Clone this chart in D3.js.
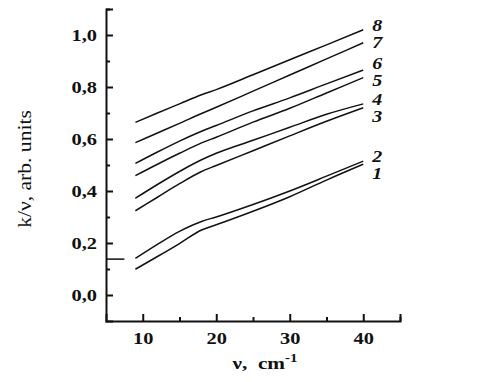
<!DOCTYPE html>
<html>
<head>
<meta charset="utf-8">
<script src="https://cdn.jsdelivr.net/npm/d3@7/dist/d3.min.js"></script>
<style>
  html, body { margin: 0; padding: 0; background: #fff; }
  svg { display: block; }
  text { font-family: "Liberation Serif", "Times New Roman", serif; fill: #111; }
</style>
</head>
<body>
<svg id="chart" width="478" height="382"></svg>
<script>
// ---- data ----
const nu = [9, 12, 15, 18, 20, 25, 30, 35, 40];
const curve1 = [0.099, 0.148, 0.198, 0.250, 0.270, 0.322, 0.378, 0.442, 0.503];
const curve2 = [0.141, 0.195, 0.245, 0.283, 0.300, 0.348, 0.400, 0.457, 0.515];
const curve3 = [0.324, 0.376, 0.428, 0.475, 0.498, 0.555, 0.612, 0.668, 0.720];
const curve4 = [0.372, 0.425, 0.475, 0.520, 0.545, 0.595, 0.645, 0.695, 0.735];
const curve5 = [0.459, 0.503, 0.545, 0.585, 0.607, 0.665, 0.718, 0.777, 0.836];
const curve6 = [0.506, 0.550, 0.592, 0.630, 0.652, 0.708, 0.758, 0.812, 0.865];
const curve7 = [0.586, 0.623, 0.660, 0.698, 0.722, 0.784, 0.846, 0.908, 0.970];
const curve8 = [0.664, 0.700, 0.735, 0.770, 0.790, 0.847, 0.905, 0.962, 1.020];
const curveNames = ["1", "2", "3", "4", "5", "6", "7", "8"];
const xMajorTicks = [10, 20, 30, 40];
const xMinorTicks = [15, 25, 35, 45];
const yMajorTicks = [0.0, 0.2, 0.4, 0.6, 0.8, 1.0];
const yMinorTicks = [0.1, 0.3, 0.5, 0.7, 0.9, 1.1];
const markY = 0.138;            // short horizontal mark on the y axis
const markX = [5, 7.5];

// ---- layout ----
const svg = d3.select("#chart");
const x = d3.scaleLinear().domain([5, 45]).range([106, 400]);
const y = d3.scaleLinear().domain([-0.1, 1.1]).range([321, 9]);
const fmt = v => d3.format(".1f")(v).replace(".", ",");
const SX = 1.2; // horizontal widening of the serif glyphs

// axes
svg.append("g").attr("transform", `translate(${x(5)},0)`)
  .call(d3.axisLeft(y).tickValues(yMajorTicks).tickSize(-7).tickPadding(9).tickFormat(fmt));
svg.append("g").attr("transform", `translate(${x(5)},0)`)
  .call(d3.axisLeft(y).tickValues(yMinorTicks).tickSize(-4).tickFormat(""))
  .select(".domain").remove();
svg.append("g").attr("transform", `translate(0,${y(-0.1)})`)
  .call(d3.axisBottom(x).tickValues(xMajorTicks).tickSize(-7).tickPadding(11).tickFormat(d3.format("d")));
svg.append("g").attr("transform", `translate(0,${y(-0.1)})`)
  .call(d3.axisBottom(x).tickValues(xMinorTicks).tickSize(-4).tickFormat(""))
  .select(".domain").remove();

svg.selectAll(".domain").attr("stroke", "#111").attr("stroke-width", 2);
svg.selectAll(".tick line").attr("stroke", "#111").attr("stroke-width", 2);
svg.selectAll(".tick text")
  .attr("font-family", "Liberation Serif, serif")
  .attr("font-weight", "bold").attr("font-size", 17).attr("fill", "#111")
  .each(function() {
    const t = d3.select(this);
    const ox = +t.attr("x") || 0;
    t.attr("x", ox / SX).attr("transform", `scale(${SX},1)`);
  });

// mark
svg.append("line")
  .attr("x1", x(markX[0])).attr("x2", x(markX[1]))
  .attr("y1", y(markY)).attr("y2", y(markY))
  .attr("stroke", "#111").attr("stroke-width", 1.5);

// curves
const curves = [curve1, curve2, curve3, curve4, curve5, curve6, curve7, curve8];
const line = d3.line().x(d => x(d[0])).y(d => y(d[1])).curve(d3.curveMonotoneX);
curves.forEach(c => {
  svg.append("path")
    .attr("d", line(nu.map((v, i) => [v, c[i]])))
    .attr("fill", "none").attr("stroke", "#111").attr("stroke-width", 1.5);
});

// curve labels
const labelDy = [9, -5, 9, -5, 3, -7, 0, -4];
curves.forEach((c, i) => {
  svg.append("text")
    .attr("transform", `translate(${x(nu[nu.length - 1]) + 9},${y(c[c.length - 1]) + labelDy[i]}) scale(1.25,1)`)
    .attr("dy", "0.35em")
    .attr("font-style", "italic").attr("font-weight", "bold").attr("font-size", 16)
    .text(curveNames[i]);
});

// axis titles
svg.append("text")
  .attr("transform", `translate(31,169) rotate(-90) scale(${SX},1)`)
  .attr("text-anchor", "middle").attr("font-size", 18)
  .text("k/ν, arb. units");

const xt = svg.append("text")
  .attr("transform", `translate(265,369) scale(1.25,1)`)
  .attr("text-anchor", "middle")
  .attr("font-weight", "bold").attr("font-size", 17);
xt.append("tspan").text("ν,\u00a0\u00a0cm");
xt.append("tspan").attr("dy", -7).attr("font-size", 12).text("-1");
</script>
</body>
</html>
